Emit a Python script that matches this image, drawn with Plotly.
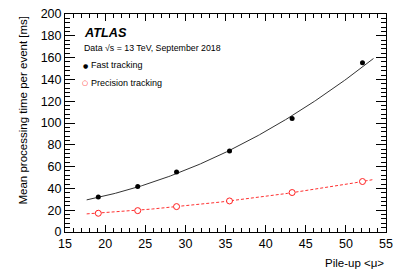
import numpy as np
import plotly.graph_objects as go

# Data
pileup_fast = [19.15, 24.06, 28.9, 35.5, 43.3, 52.07]
time_fast = [32.2, 41.7, 55.1, 74.4, 104.2, 155.3]
pileup_prec = [19.15, 24.06, 28.9, 35.5, 43.3, 52.07]
time_prec = [17.2, 19.6, 23.3, 28.5, 36.2, 46.3]

# Fit curves, points
fit_fast_mu = [17.7, 19.15, 24.1, 28.9, 35.57, 43.2, 52.07, 53.44]
fit_fast_t = [29.8, 31.6, 41.3, 53.7, 73.5, 108.1, 151.6, 158.4]
fit_prec_mu = [17.7, 19.15, 24.1, 28.9, 35.5, 43.3, 52.07, 53.3]
fit_prec_t = [16.9, 17.2, 19.6, 23.3, 28.5, 36.2, 46.1, 48.1]

x_ticks = [15, 20, 25, 30, 35, 40, 45, 50, 55]
y_ticks = [0, 20, 40, 60, 80, 100, 120, 140, 160, 180, 200]

FONT = "Liberation Sans, Arial, Helvetica, sans-serif"

cf = np.polyfit(fit_fast_mu, fit_fast_t, 2)
cp = np.polyfit(fit_prec_mu, fit_prec_t, 2)
xff = np.linspace(fit_fast_mu[0], fit_fast_mu[-1], 200)
xfp = np.linspace(fit_prec_mu[0], fit_prec_mu[-1], 200)

fig = go.Figure()
fig.add_trace(go.Scatter(x=xff, y=np.polyval(cf, xff), mode="lines",
                         line=dict(color="#333333", width=1), showlegend=False))
fig.add_trace(go.Scatter(x=xfp, y=np.polyval(cp, xfp), mode="lines",
                         line=dict(color="#ff3030", width=1, dash="3px,2px"), showlegend=False))
fig.add_trace(go.Scatter(x=pileup_fast, y=time_fast, mode="markers",
                         marker=dict(color="black", size=5, symbol="circle"), showlegend=False))
fig.add_trace(go.Scatter(x=pileup_prec, y=time_prec, mode="markers",
                         marker=dict(color="white", size=6, symbol="circle",
                                     line=dict(color="#ff2020", width=1)), showlegend=False))

axis_common = dict(showgrid=False, zeroline=False, showline=True, linecolor="black",
                   linewidth=1, mirror="ticks", ticks="inside", tickcolor="black",
                   automargin=False,
                   tickfont=dict(family=FONT, size=12.5, color="black"))

fig.update_xaxes(range=[15, 55], tickvals=x_ticks, ticklen=7,
                 minor=dict(dtick=1, ticklen=4, ticks="inside", tickcolor="black"),
                 **axis_common)
fig.update_yaxes(range=[0, 200], tickvals=y_ticks, ticklen=10,
                 minor=dict(dtick=4, ticklen=5, ticks="inside", tickcolor="black"),
                 **axis_common)

W0, H0 = 321.0, 217.7  # plot area size in px
L0, B0 = 65.0, 231.7   # left edge and bottom edge in px


def px(xp):
    return (xp - L0) / W0


def py(yp):
    return (B0 - yp) / H0


ann = []
ann.append(dict(text="Mean processing time per event [ms]", xref="paper", yref="paper",
                x=px(22), y=1.0, xanchor="center", yanchor="top", textangle=-90,
                showarrow=False, font=dict(family=FONT, size=11.5, color="black")))
ann.append(dict(text="Pile-up <μ>", xref="paper", yref="paper",
                x=1.0, y=py(262.7), xanchor="right", yanchor="middle",
                showarrow=False, font=dict(family=FONT, size=11.5, color="black")))
ann.append(dict(text="<b><i>ATLAS</i></b>", xref="paper", yref="paper",
                x=px(81.7), y=py(33.3), xanchor="left", yanchor="middle",
                showarrow=False, font=dict(family=FONT, size=12.7, color="black")))
ann.append(dict(text="Data √s = 13 TeV, September 2018", xref="paper", yref="paper",
                x=px(81.7), y=py(48.3), xanchor="left", yanchor="middle",
                showarrow=False, font=dict(family=FONT, size=8.8, color="black")))
ann.append(dict(text="●", xref="paper", yref="paper",
                x=px(85), y=py(65), xanchor="center", yanchor="middle",
                showarrow=False, font=dict(family="DejaVu Sans", size=6, color="black")))
ann.append(dict(text="○", xref="paper", yref="paper",
                x=px(85), y=py(82.5), xanchor="center", yanchor="middle",
                showarrow=False, font=dict(family="DejaVu Sans", size=7, color="#ff2020")))
ann.append(dict(text="Fast tracking", xref="paper", yref="paper",
                x=px(89.3), y=py(65), xanchor="left", yanchor="middle",
                showarrow=False, font=dict(family=FONT, size=9, color="black")))
ann.append(dict(text="Precision tracking", xref="paper", yref="paper",
                x=px(89.3), y=py(82.5), xanchor="left", yanchor="middle",
                showarrow=False, font=dict(family=FONT, size=9, color="black")))

fig.update_layout(width=407, height=276,
                  margin=dict(l=L0, r=407 - L0 - W0, t=B0 - H0, b=276 - B0, pad=0),
                  paper_bgcolor="white", plot_bgcolor="white", annotations=ann,
                  showlegend=False)

fig.write_html("out.html", config={"displayModeBar": False},
               post_script="document.body.style.margin='0';document.body.style.padding='0';"
                           "document.body.style.overflow='hidden';")
